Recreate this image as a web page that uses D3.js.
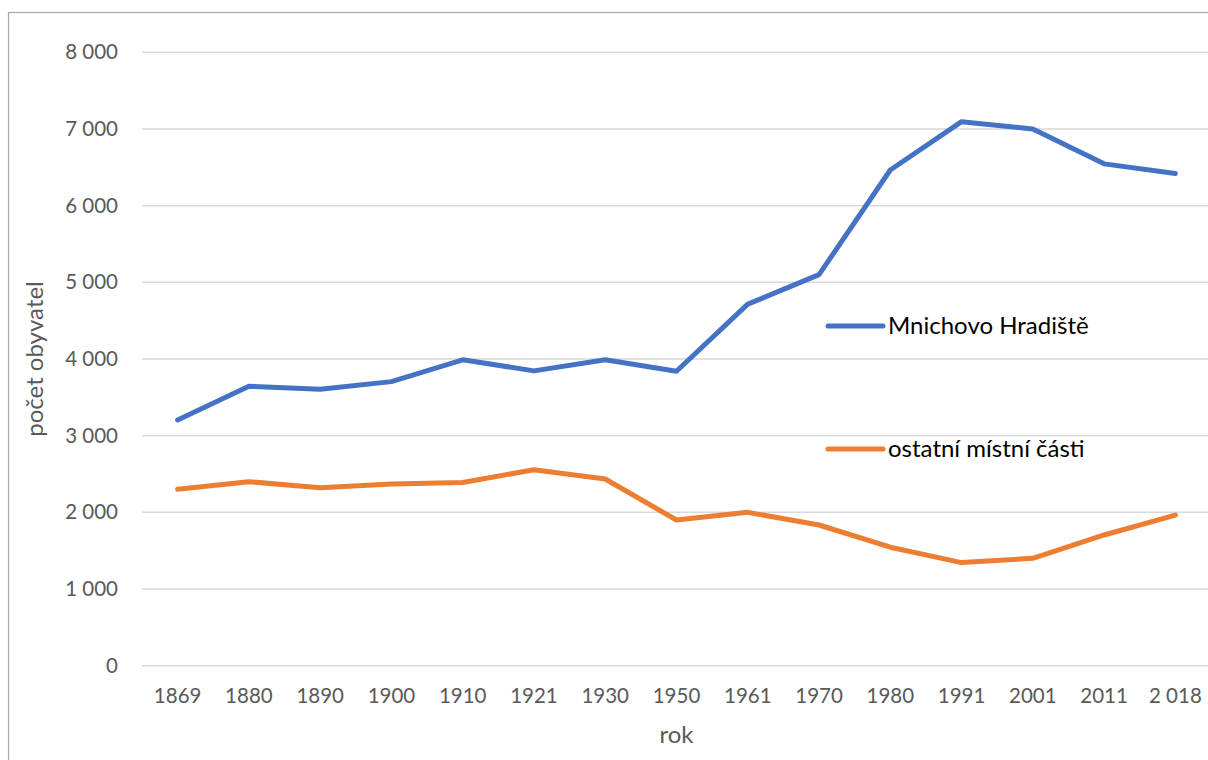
<!DOCTYPE html>
<html>
<head>
<meta charset="utf-8">
<script src="https://cdn.jsdelivr.net/npm/d3@7"></script>
<style>
  body { margin: 0; background: #fff; }
  text { font-family: Lato, "Open Sans", sans-serif; }
</style>
</head>
<body>
<svg id="chart" width="1208" height="760"></svg>
<script>
'use strict';

const years = ["1869", "1880", "1890", "1900", "1910", "1921", "1930", "1950",
               "1961", "1970", "1980", "1991", "2001", "2011", "2 018"];
const hradiste = [3205, 3645, 3605, 3705, 3990, 3845, 3990, 3840, 4715, 5100, 6465, 7095, 7000, 6545, 6420];
const ostatni = [2300, 2400, 2320, 2370, 2390, 2555, 2435, 1900, 2000, 1835, 1545, 1345, 1400, 1705, 1965];
const yTicks = [0, 1000, 2000, 3000, 4000, 5000, 6000, 7000, 8000];

const series = [
  { name: "Mnichovo Hradiště", values: hradiste, color: "#4472C4", legendY: 326 },
  { name: "ostatní místní části", values: ostatni, color: "#ED7D31", legendY: 449 }
];

const svg = d3.select("#chart");

// outer chart border (runs off the right/bottom edge like the original)
svg.append("rect")
  .attr("x", 8.5).attr("y", 12.5)
  .attr("width", 1300).attr("height", 900)
  .attr("fill", "none")
  .attr("stroke", "#a6a6a6")
  .attr("stroke-width", 1.2);

const plotL = 142, plotR = 1211, plotT = 52.3, plotB = 665.7;

const x = d3.scaleBand().domain(years).range([plotL, plotR]);
const y = d3.scaleLinear().domain([0, 8000]).range([plotB, plotT]);

// gridlines
svg.append("g")
  .selectAll("line")
  .data(yTicks)
  .enter().append("line")
    .attr("x1", plotL).attr("x2", plotR)
    .attr("y1", d => y(d)).attr("y2", d => y(d))
    .attr("stroke", "#d9d9d9")
    .attr("stroke-width", 1.5);

const fmt = d => d3.format(",")(d).replace(/,/g, " ");

// y axis labels
const yAxis = svg.append("g")
  .attr("transform", "translate(" + (plotL - 24) + ",0)")
  .call(d3.axisLeft(y).tickValues(yTicks).tickFormat(fmt).tickSize(0));
yAxis.select(".domain").remove();
yAxis.selectAll("text")
  .attr("x", 0)
  .attr("fill", "#595959")
  .style("font-size", "20.5px");

// x axis labels
const xAxis = svg.append("g")
  .attr("transform", "translate(0," + plotB + ")")
  .call(d3.axisBottom(x).tickSize(0));
xAxis.select(".domain").remove();
xAxis.selectAll("text")
  .attr("y", 23)
  .attr("fill", "#595959")
  .style("font-size", "20.5px");

// axis titles
svg.append("text")
  .attr("x", (plotL + plotR) / 2).attr("y", 743)
  .attr("text-anchor", "middle")
  .attr("fill", "#595959")
  .style("font-size", "24px")
  .text("rok");

svg.append("text")
  .attr("transform", "translate(43," + ((plotT + plotB) / 2) + ") rotate(-90)")
  .attr("text-anchor", "middle")
  .attr("fill", "#595959")
  .style("font-size", "24px")
  .text("počet obyvatel");

// lines
const line = d3.line()
  .x((d, i) => x(years[i]) + x.bandwidth() / 2)
  .y(d => y(d));

svg.selectAll("path.series")
  .data(series)
  .enter().append("path")
    .attr("class", "series")
    .attr("d", d => line(d.values))
    .attr("fill", "none")
    .attr("stroke", d => d.color)
    .attr("stroke-width", 5)
    .attr("stroke-linejoin", "round")
    .attr("stroke-linecap", "round");

// legend
const legend = svg.selectAll("g.legend")
  .data(series)
  .enter().append("g")
    .attr("class", "legend")
    .attr("transform", d => "translate(828," + d.legendY + ")");

legend.append("line")
  .attr("x1", 0).attr("x2", 55)
  .attr("stroke", d => d.color)
  .attr("stroke-width", 5)
  .attr("stroke-linecap", "round");

legend.append("text")
  .attr("x", 60)
  .attr("dy", "0.35em")
  .attr("fill", "#000")
  .style("font-size", "24px")
  .text(d => d.name);
</script>
</body>
</html>
